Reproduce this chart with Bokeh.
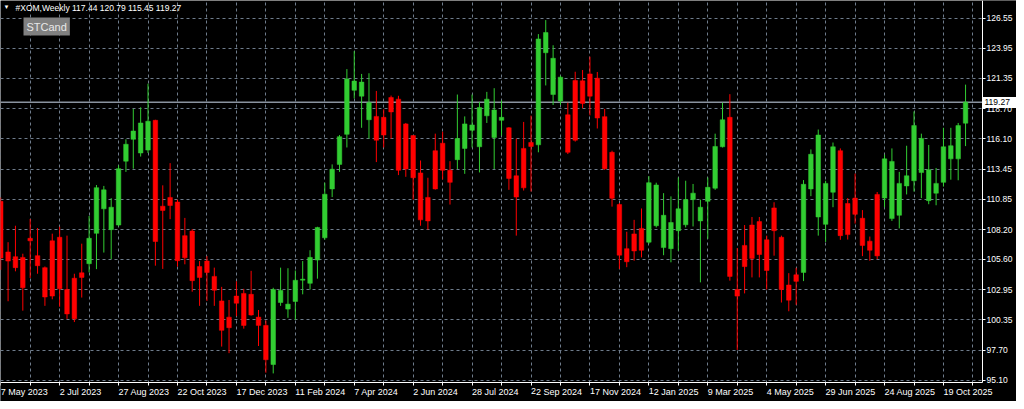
import pandas as pd
from bokeh.plotting import figure
from bokeh.models import (Range1d, FixedTicker, ColumnDataSource, Label, Span,
                          NumeralTickFormatter, LinearAxis, BoxAnnotation)
from bokeh.embed import file_html
from bokeh.resources import INLINE

SYMBOL = "#XOM,Weekly"
START_DATE = "2023-05-07"

OPEN = [110.65, 106.25, 105.84, 105.78, 107.44, 105.93, 104.89, 107.22, 107.53, 102.99,
        103.97, 104.44, 105.23, 107.87, 110.00, 108.19, 108.59, 114.14, 116.04, 114.85,
        115.10, 117.69, 110.23, 110.99, 110.59, 107.67, 108.07, 104.98, 105.46, 104.13,
        102.00, 100.59, 102.42, 102.65, 102.57, 100.59, 99.87, 96.47, 101.86, 101.29,
        101.95, 103.80, 103.53, 105.55, 107.48, 111.73, 113.86, 116.47, 120.30, 119.79,
        117.74, 118.03, 117.95, 119.67, 119.53, 117.38, 116.36, 113.12, 110.99, 115.05,
        115.70, 113.35, 114.27, 115.25, 116.82, 115.39, 118.08, 116.19, 117.69, 117.04,
        112.87, 115.25, 115.76, 115.56, 123.56, 119.93, 119.36, 118.17, 121.15, 121.12,
        121.72, 121.35, 118.01, 114.91, 110.37, 106.54, 107.82, 108.30, 107.10, 108.53,
        106.63, 106.54, 108.10, 108.61, 110.80, 108.95, 110.65, 111.79, 115.39, 117.95,
        102.99, 106.82, 108.59, 108.89, 107.31, 110.08, 107.53, 103.38, 104.27, 104.47,
        111.73, 109.29, 108.65, 111.44, 115.05, 110.46, 110.93, 109.18, 107.19, 111.25,
        110.93, 109.15, 109.44, 111.99, 112.44, 113.15, 110.71, 111.36, 112.30, 114.34,
        114.34, 117.44]
HIGH = [110.99, 107.10, 108.53, 106.10, 109.12, 108.33, 104.99, 107.84, 108.44, 107.67,
        104.36, 106.97, 109.38, 112.07, 111.99, 110.93, 113.78, 116.04, 118.68, 118.82,
        120.87, 117.74, 112.04, 113.97, 110.80, 109.21, 108.24, 105.46, 105.89, 104.89,
        103.22, 102.08, 103.70, 103.05, 104.61, 101.21, 100.30, 103.14, 104.89, 104.84,
        104.64, 105.46, 106.40, 108.44, 112.27, 113.86, 116.41, 122.14, 123.70, 121.72,
        121.78, 120.24, 118.65, 119.84, 119.82, 117.46, 116.40, 114.20, 112.70, 116.53,
        116.70, 114.14, 119.93, 118.03, 119.93, 119.29, 120.16, 120.48, 119.42, 117.10,
        116.10, 117.55, 118.10, 125.18, 126.40, 124.21, 121.57, 119.22, 121.91, 122.06,
        123.22, 121.89, 118.68, 115.05, 110.51, 108.01, 109.04, 110.03, 112.84, 112.27,
        111.36, 111.08, 112.72, 112.44, 112.16, 110.80, 112.72, 116.53, 119.22, 119.96,
        106.59, 108.59, 109.29, 109.29, 107.67, 110.57, 107.67, 104.41, 104.87, 112.50,
        115.16, 116.89, 112.44, 115.76, 115.25, 110.93, 113.06, 109.89, 107.59, 111.46,
        114.71, 115.25, 113.21, 115.48, 118.46, 116.53, 115.55, 113.55, 117.04, 117.04,
        117.46, 120.79]
LOW = [104.70, 101.97, 104.57, 101.15, 103.99, 104.36, 101.57, 102.14, 101.49, 100.44,
       100.16, 102.29, 104.48, 104.76, 106.20, 105.63, 108.48, 113.21, 113.49, 114.54,
       114.85, 105.06, 104.78, 109.10, 104.98, 105.18, 102.80, 101.57, 102.00, 101.57,
       98.03, 97.46, 100.67, 99.59, 100.72, 98.08, 95.76, 95.70, 101.57, 100.53,
       100.36, 102.57, 102.99, 103.93, 107.31, 111.02, 113.21, 115.33, 119.59, 117.04,
       116.10, 114.06, 115.33, 116.10, 112.93, 112.78, 110.80, 108.53, 108.19, 111.67,
       112.55, 110.37, 113.46, 113.04, 115.33, 113.16, 117.46, 113.46, 116.36, 111.65,
       107.67, 111.59, 111.50, 114.91, 120.72, 119.02, 119.02, 114.76, 115.84, 118.74,
       118.12, 116.98, 113.38, 110.19, 104.78, 104.93, 105.49, 105.78, 106.97, 108.38,
       105.97, 105.35, 106.34, 108.38, 108.47, 103.61, 107.39, 111.65, 115.33, 103.76,
       97.74, 102.65, 104.04, 104.04, 102.99, 105.93, 101.86, 101.10, 101.66, 103.72,
       111.10, 107.67, 107.12, 110.14, 107.31, 107.33, 108.72, 105.89, 105.49, 105.63,
       110.14, 108.95, 108.30, 111.25, 111.50, 110.93, 110.40, 110.31, 111.93, 112.53,
       112.48, 115.45]
CLOSE = [105.72, 105.46, 104.89, 103.14, 107.22, 105.06, 102.34, 102.42, 103.05, 100.87,
         100.44, 104.04, 107.44, 111.84, 111.65, 110.14, 113.49, 115.61, 116.76, 117.46,
         117.61, 107.16, 109.86, 110.29, 105.49, 105.74, 103.76, 104.04, 104.47, 102.93,
         99.44, 99.67, 101.80, 99.87, 100.78, 99.87, 96.89, 102.99, 102.91, 101.72,
         103.79, 103.89, 105.78, 108.38, 111.27, 113.44, 116.27, 121.29, 121.10, 121.01,
         119.22, 115.96, 116.41, 118.42, 113.35, 113.46, 112.70, 109.04, 108.95, 111.73,
         113.35, 112.30, 116.10, 117.38, 117.29, 118.80, 119.53, 118.59, 117.95, 112.64,
         111.02, 111.82, 115.42, 124.76, 125.32, 123.08, 121.44, 114.91, 115.96, 119.16,
         119.79, 117.89, 113.49, 110.91, 105.97, 105.40, 106.34, 106.40, 112.27, 112.07,
         109.44, 108.81, 110.00, 110.80, 111.36, 110.14, 111.87, 115.42, 117.74, 104.13,
         102.42, 104.98, 105.69, 106.03, 104.64, 108.10, 102.99, 102.06, 103.70, 112.13,
         114.74, 116.41, 112.21, 115.39, 107.67, 107.76, 109.52, 106.82, 106.40, 105.91,
         114.34, 114.12, 112.21, 112.87, 117.23, 116.12, 113.40, 112.21, 115.39, 115.48,
         117.23, 119.27]

PRICE_TICKS = [126.55, 123.95, 121.35, 118.70, 116.10, 113.45, 110.85,
               108.20, 105.60, 102.95, 100.35, 97.70, 95.10]
DATE_LABELS = ["7 May 2023", "2 Jul 2023", "27 Aug 2023", "22 Oct 2023", "17 Dec 2023",
               "11 Feb 2024", "7 Apr 2024", "2 Jun 2024", "28 Jul 2024", "22 Sep 2024",
               "17 Nov 2024", "12 Jan 2025", "9 Mar 2025", "4 May 2025", "29 Jun 2025",
               "24 Aug 2025", "19 Oct 2025"]

BULL = "#32cd32"
BEAR = "#ff0000"
GRID = "#6f7c8c"
FONT = "Liberation Sans"

n = len(OPEN)
dates = pd.date_range(START_DATE, periods=n, freq="7D")
idx = list(range(n))
top = [max(o, c) for o, c in zip(OPEN, CLOSE)]
bot = [min(o, c) for o, c in zip(OPEN, CLOSE)]
col = [BULL if c >= o else BEAR for o, c in zip(OPEN, CLOSE)]
src = ColumnDataSource(dict(x=idx, date=dates, open=OPEN, high=HIGH, low=LOW,
                            close=CLOSE, top=top, bottom=bot, color=col))

# layout: the price chart occupies CHART_W x CHART_H pixels of the figure,
# the remaining strip at the right / bottom holds the price and time scales
FIG_W, FIG_H = 1016, 401
CHART_W, CHART_H = 982, 382
XR0, XR1 = -0.03, 133.3          # bar-index span of the chart area
YR0, YR1 = 94.91, 128.10         # price span of the chart area
XEND = XR0 + (XR1 - XR0) * FIG_W / CHART_W
YBOT = YR1 - (YR1 - YR0) * FIG_H / CHART_H

p = figure(width=FIG_W, height=FIG_H, output_backend="svg", toolbar_location=None,
           x_range=Range1d(XR0, XEND), y_range=Range1d(YBOT, YR1),
           y_axis_location="right", background_fill_color="black",
           border_fill_color="black", outline_line_color=None, min_border=0)
p.min_border_left = 0
p.min_border_top = 0
p.min_border_right = 0
p.min_border_bottom = 0

# grid
xticks = list(range(0, n + 2, 4))
for g in (p.xgrid, p.ygrid):
    g.grid_line_color = GRID
    g.grid_line_dash = "3 3"
    g.grid_line_width = 1

# blank the scale strips (over the grid, under everything else)
p.add_layout(BoxAnnotation(left=XR1, fill_color="black", fill_alpha=1.0,
                           line_color=None, level="underlay"))
p.add_layout(BoxAnnotation(top=YR0, fill_color="black", fill_alpha=1.0,
                           line_color=None, level="underlay"))

# current price line
p.add_layout(Span(location=CLOSE[-1], dimension="width", line_color="#8a939f",
                  line_width=1.5, level="underlay"))

# axes, pinned to the chart edges
p.xaxis.ticker = FixedTicker(ticks=xticks)
over = {}
for t in xticks:
    k = t // 8
    over[t] = DATE_LABELS[k] if (t % 8 == 0 and k < len(DATE_LABELS)) else ""
p.xaxis.major_label_overrides = over
p.xaxis.major_label_orientation = -0.0001
p.xaxis.fixed_location = YR0
p.xaxis.bounds = (XR0, XR1)
p.yaxis.ticker = FixedTicker(ticks=PRICE_TICKS)
p.yaxis.formatter = NumeralTickFormatter(format="0.00")
p.yaxis.fixed_location = XR1
p.yaxis.bounds = (YR0, YR1)
for ax in (p.xaxis, p.yaxis):
    ax.axis_line_color = "white"
    ax.major_tick_line_color = "white"
    ax.minor_tick_line_color = None
    ax.major_tick_in = 0
    ax.major_label_text_color = "white"
    ax.major_label_text_font = FONT
    ax.axis_label_standoff = 0
p.xaxis.major_label_text_font_size = "9px"
p.yaxis.major_label_text_font_size = "8.5px"
p.xaxis.major_tick_out = 3
p.xaxis.major_label_standoff = 6
p.yaxis.major_tick_out = 3
p.yaxis.major_label_standoff = 1

# candles
p.segment(x0="x", y0="low", x1="x", y1="high", line_color="color", line_width=1, source=src)
p.vbar(x="x", width=0.62, top="top", bottom="bottom", fill_color="color",
       line_color="color", line_width=0.5, source=src)

# header texts
p.add_layout(Label(x=XR0, y=YR1, x_offset=3, y_offset=-3, text="\u25BC",
                   text_color="white", text_font=FONT, text_font_size="6px",
                   text_baseline="top"))
hdr = "%s  %.2f %.2f %.2f %.2f" % (SYMBOL, OPEN[-1], HIGH[-1], LOW[-1], CLOSE[-1])
p.add_layout(Label(x=XR0, y=YR1, x_offset=15, y_offset=-2, text=hdr,
                   text_color="white", text_font=FONT, text_font_size="8.5px",
                   text_baseline="top"))
p.add_layout(Label(x=XR0, y=YR1, x_offset=23, y_offset=-17, text="STCand",
                   text_color="#e8e8e8", text_font=FONT, text_font_size="11px",
                   text_baseline="top", background_fill_color="#808080", padding=3))

# last price tag on the price scale: a one-tick axis pinned at the chart edge,
# its wide white tick forms the box and the black label sits inside it
tag = LinearAxis(ticker=FixedTicker(ticks=[CLOSE[-1]]),
                 formatter=NumeralTickFormatter(format="0.00"),
                 fixed_location=XR1, axis_line_color=None,
                 major_tick_line_color="white", major_tick_line_width=11,
                 major_tick_in=0, major_tick_out=40, minor_tick_line_color=None,
                 major_label_standoff=-38, major_label_text_color="black",
                 major_label_text_font=FONT, major_label_text_font_size="8.5px")
p.add_layout(tag, "right")

open("out.html", "w").write(file_html(p, INLINE))
